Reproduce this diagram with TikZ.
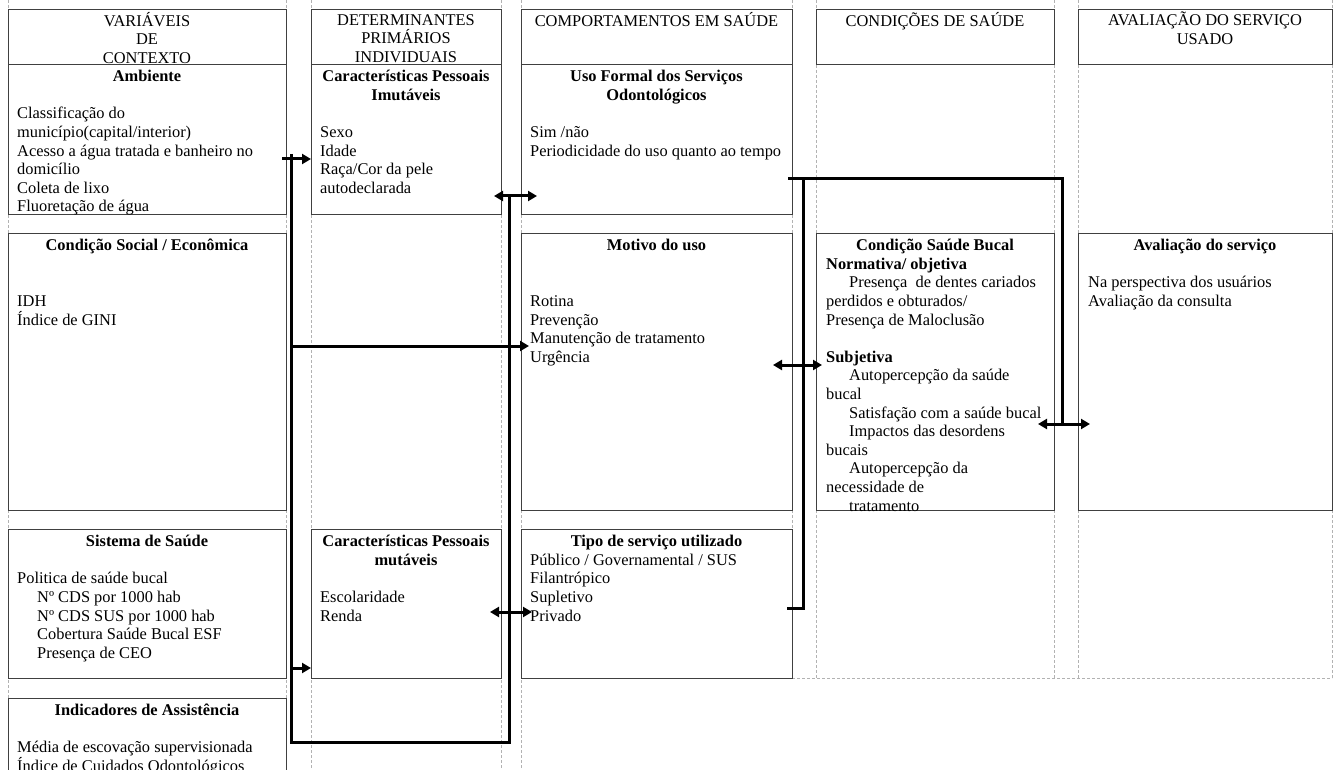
\documentclass[tikz,border=0pt]{standalone}
\usepackage{fontspec}
\setmainfont{Liberation Serif}
\usetikzlibrary{arrows.meta,positioning}

\newcommand{\txtfont}{\fontsize{16.4}{18.6}\selectfont\lineskiplimit=-20pt}

\begin{document}
\begin{tikzpicture}[x=1pt,y=-1pt,>={Triangle[length=9pt,width=10pt]},font=\txtfont]
    \tikzset{
      cell/.style={draw=black!75,line width=0.8pt,anchor=north west,inner sep=0pt,outer sep=0pt},
      head/.style={anchor=north,align=center,inner sep=0pt,yshift=-3pt},
      ttl/.style={anchor=north,align=center,inner sep=0pt,yshift=-4.5pt,font=\txtfont\bfseries},
      body/.style={anchor=north west,align=left,inner sep=0pt,yshift=-4.5pt},
      grid/.style={gray!60,densely dashed,line width=0.4pt},
      link/.style={line width=3pt}
    }
    \useasboundingbox (0,0) rectangle (1334,770);
    % table grid
    \foreach \x in {8,286,311,501,521}
      \draw[grid] (\x,0) -- (\x,770);
    \foreach \x in {792,816,1054,1078,1332}
      \draw[grid] (\x,0) -- (\x,678);
    \draw[grid] (792,678) -- (1332,678);
    % headers
    \node[cell,minimum width=278pt,minimum height=55pt] (varctx)    at (8,9)    {};
    \node[cell,minimum width=190pt,minimum height=55pt] (detprim)   at (311,9)  {};
    \node[cell,minimum width=271pt,minimum height=55pt] (comport)   at (521,9)  {};
    \node[cell,minimum width=238pt,minimum height=55pt] (condsaude) at (816,9)  {};
    \node[cell,minimum width=254pt,minimum height=55pt] (avalserv)  at (1078,9) {};
    \node[head] (varctxT)    at (varctx.north)    {\strut VARIÁVEIS\\DE\\CONTEXTO};
    \node[head] (detprimT)   at (detprim.north)   {\strut DETERMINANTES\\PRIMÁRIOS\\INDIVIDUAIS};
    \node[head] (comportT)   at (comport.north)   {\strut COMPORTAMENTOS EM SAÚDE};
    \node[head] (condsaudeT) at (condsaude.north) {\strut CONDIÇÕES DE SAÚDE};
    \node[head] (avalservT)  at (avalserv.north)  {\strut AVALIAÇÃO DO SERVIÇO\\USADO};
    % boxes
    \node[cell,minimum width=278pt,minimum height=150pt] (ambiente)  at (8,64)    {};
    \node[cell,minimum width=190pt,minimum height=150pt] (imutav)    at (311,64)  {};
    \node[cell,minimum width=271pt,minimum height=150pt] (usoform)   at (521,64)  {};
    \node[cell,minimum width=278pt,minimum height=277pt] (social)    at (8,233)   {};
    \node[cell,minimum width=271pt,minimum height=277pt] (motivo)    at (521,233) {};
    \node[cell,minimum width=238pt,minimum height=277pt] (bucal)     at (816,233) {};
    \node[cell,minimum width=254pt,minimum height=277pt] (avaliacao) at (1078,233) {};
    \node[cell,minimum width=278pt,minimum height=149pt] (sistema)   at (8,529)   {};
    \node[cell,minimum width=190pt,minimum height=149pt] (mutav)     at (311,529) {};
    \node[cell,minimum width=271pt,minimum height=149pt] (tipo)      at (521,529) {};
    \node[cell,minimum width=278pt,minimum height=95pt]  (indic)     at (8,698)   {};
    % box titles
    \node[ttl] (ambienteT)  at (ambiente.north)  {\strut Ambiente};
    \node[ttl] (imutavT)    at (imutav.north)    {\strut Características Pessoais\\Imutáveis};
    \node[ttl] (usoformT)   at (usoform.north)   {\strut Uso Formal dos Serviços\\Odontológicos};
    \node[ttl] (socialT)    at (social.north)    {\strut Condição Social / Econômica};
    \node[ttl] (motivoT)    at (motivo.north)    {\strut Motivo do uso};
    \node[ttl] (bucalT)     at (bucal.north)     {\strut Condição Saúde Bucal};
    \node[ttl] (avaliacaoT) at (avaliacao.north) {\strut Avaliação do serviço};
    \node[ttl] (sistemaT)   at (sistema.north)   {\strut Sistema de Saúde};
    \node[ttl] (mutavT)     at (mutav.north)     {\strut Características Pessoais\\mutáveis};
    \node[ttl] (tipoT)      at (tipo.north)      {\strut Tipo de serviço utilizado};
    \node[ttl] (indicT)     at (indic.north)     {\strut Indicadores de Assistência};
    % box contents
    \node[body] (ambienteB) at ([shift={(9,37.2)}]ambiente.north west) {\strut Classificação do\\
      município(capital/interior)\\Acesso a água tratada e banheiro no\\domicílio\\Coleta de lixo\\Fluoretação de água};
    \node[body] (imutavB) at ([shift={(9,55.8)}]imutav.north west) {\strut Sexo\\Idade\\Raça/Cor da pele\\autodeclarada};
    \node[body] (usoformB) at ([shift={(9,55.8)}]usoform.north west) {\strut Sim /não\\Periodicidade do uso quanto ao tempo};
    \node[body] (socialB) at ([shift={(9,55.8)}]social.north west) {\strut IDH\\Índice de GINI};
    \node[body] (motivoB) at ([shift={(9,55.8)}]motivo.north west) {\strut Rotina\\Prevenção\\Manutenção de tratamento\\Urgência};
    \node[body] (bucalB) at ([shift={(10,18.6)}]bucal.north west) {\strut\textbf{Normativa/ objetiva}\\
      \hspace*{23pt}Presença\ \ de dentes cariados\\perdidos e obturados/\\Presença de Maloclusão\\[18.6pt]
      \textbf{Subjetiva}\\
      \hspace*{23pt}Autopercepção da saúde\\bucal\\
      \hspace*{23pt}Satisfação com a saúde bucal\\
      \hspace*{23pt}Impactos das desordens\\bucais\\
      \hspace*{23pt}Autopercepção da\\necessidade de\\
      \hspace*{23pt}tratamento};
    \node[body] (avaliacaoB) at ([shift={(10,37.2)}]avaliacao.north west) {\strut Na perspectiva dos usuários\\Avaliação da consulta};
    \node[body] (sistemaB) at ([shift={(9,37.2)}]sistema.north west) {\strut Politica de saúde bucal\\
      \hspace*{20pt}Nº CDS por 1000 hab\\
      \hspace*{20pt}Nº CDS SUS por 1000 hab\\
      \hspace*{20pt}Cobertura Saúde Bucal ESF\\
      \hspace*{20pt}Presença de CEO};
    \node[body] (mutavB) at ([shift={(9,55.8)}]mutav.north west) {\strut Escolaridade\\Renda};
    \node[body] (tipoB) at ([shift={(9,18.6)}]tipo.north west) {\strut Público / Governamental / SUS\\Filantrópico\\Supletivo\\Privado};
    \node[body] (indicB) at ([shift={(9,37.2)}]indic.north west) {\strut Média de escovação supervisionada\\Índice de Cuidados Odontológicos};
    % connector points
    \coordinate (k0) at (282,159);
    \coordinate (k1) at (291,154);
    \coordinate (k2) at (291,742);
    \coordinate (k3) at (509,742);
    \coordinate (k4) at (509,196);
    \coordinate (q1) at (291,346);
    \coordinate (q2) at (529,346);
    \coordinate (r1) at (291,668);
    \coordinate (s1) at (494,196);
    \coordinate (s2) at (537,196);
    \coordinate (u1) at (490,612);
    \coordinate (u2) at (532,612);
    \coordinate (v1) at (788,179);
    \coordinate (v2) at (1062,179);
    \coordinate (v3) at (1062,424);
    \coordinate (w1) at (1038,424);
    \coordinate (w2) at (1090,424);
    \coordinate (m1) at (803,179);
    \coordinate (m2) at (803,608);
    \coordinate (m3) at (787,608);
    \coordinate (n1) at (773,365);
    \coordinate (n2) at (822,365);
    % connectors
    \draw[link] (k1) -- (k2) -- (k3) -- (k4);
    \draw[link,->] (k0) -- (imutav.west |- k0);
    \draw[link,->] (q1) -- (q2);
    \draw[link,->] (r1) -- (mutav.west |- r1);
    \draw[link,<->] (s1) -- (s2);
    \draw[link,<->] (u1) -- (u2);
    \draw[link] (v1) -- (v2) -- (v3);
    \draw[link,<->] (w1) -- (w2);
    \draw[link] (m1) -- (m2) -- (m3);
    \draw[link,<->] (n1) -- (n2);
\end{tikzpicture}
\end{document}
